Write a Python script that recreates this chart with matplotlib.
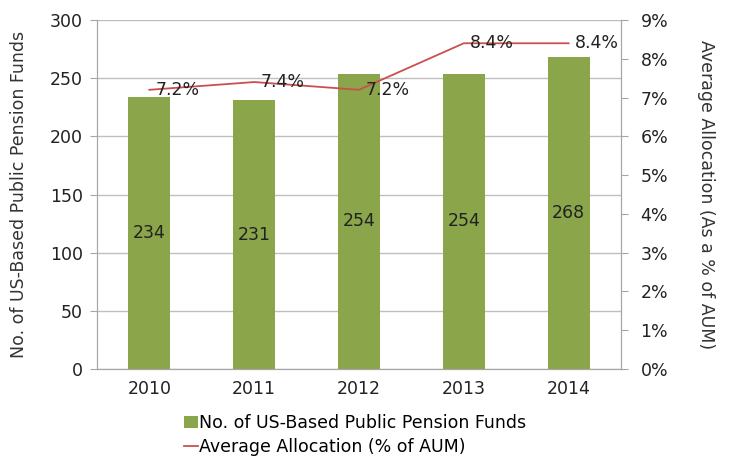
import matplotlib.pyplot as plt
from matplotlib.ticker import FuncFormatter, MultipleLocator

years = ["2010", "2011", "2012", "2013", "2014"]
funds = [234, 231, 254, 254, 268]
allocation = [7.2, 7.4, 7.2, 8.4, 8.4]

BAR_COLOR = "#8BA54A"
LINE_COLOR = "#C9504F"
GRID_COLOR = "#BFBFBF"
AXIS_COLOR = "#A6A6A6"
TEXT_COLOR = "#222222"
FS = 12.5

plt.rcParams["font.family"] = ["DejaVu Sans"]

fig = plt.figure(figsize=(7.3, 4.59), dpi=100)
ax = fig.add_axes([97 / 730, 1 - 369 / 459, 524 / 730, 349 / 459])
ax2 = ax.twinx()

x = list(range(len(years)))
bars = ax.bar(x, funds, width=0.4, color=BAR_COLOR, zorder=2,
              label="No. of US-Based Public Pension Funds")
for xi, v in zip(x, funds):
    ax.text(xi, v / 2, str(v), ha="center", va="center", fontsize=FS, color=TEXT_COLOR)

line, = ax2.plot(x, allocation, color=LINE_COLOR, lw=1.3,
                 label="Average Allocation (% of AUM)")
for xi, v in zip(x, allocation):
    ax2.text(xi + 0.06, v, f"{v:.1f}%", ha="left", va="center", fontsize=FS, color=TEXT_COLOR)

ax.set_xlim(-0.5, len(years) - 0.5)
ax.set_ylim(0, 300)
ax.yaxis.set_major_locator(MultipleLocator(50))
ax2.set_ylim(0, 9)
ax2.yaxis.set_major_locator(MultipleLocator(1))
ax2.yaxis.set_major_formatter(FuncFormatter(lambda v, p: f"{v:.0f}%"))

ax.set_xticks(x)
ax.set_xticklabels(years)
ax.tick_params(axis="x", length=0, labelsize=FS, pad=8, labelcolor=TEXT_COLOR)
ax.tick_params(axis="y", length=5, color=AXIS_COLOR, labelsize=FS, pad=5, labelcolor=TEXT_COLOR)
ax2.tick_params(axis="y", length=5, color=AXIS_COLOR, labelsize=FS, pad=9, labelcolor=TEXT_COLOR)

ax.grid(axis="y", color=GRID_COLOR, lw=1, zorder=0)
ax.set_axisbelow(True)

for a in (ax, ax2):
    a.spines["top"].set_visible(False)
    for s in ("left", "right", "bottom"):
        a.spines[s].set_color(AXIS_COLOR)

ax.set_ylabel("No. of US-Based Public Pension Funds", fontsize=FS, color="#333333", labelpad=16)
ax2.set_ylabel("Average Allocation (As a % of AUM)", fontsize=FS, color="#333333",
               rotation=270, labelpad=34)

fig.legend([bars, line], [bars.get_label(), line.get_label()],
           loc="center", bbox_to_anchor=(355 / 730, 1 - 435 / 459), ncol=1,
           frameon=False, fontsize=FS, handlelength=0.8, handletextpad=0.1,
           labelspacing=0.3)

fig.savefig("out.png", dpi=100)
